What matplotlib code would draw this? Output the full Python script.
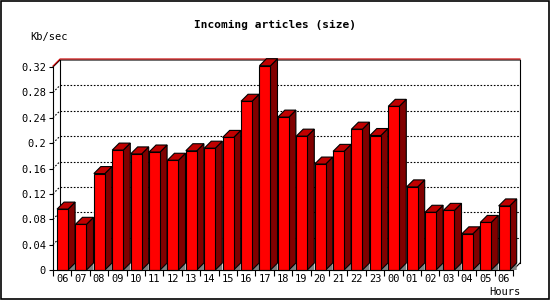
import numpy as np
import matplotlib.pyplot as plt
from matplotlib.patches import Polygon, Rectangle

# data
hours = ["06", "07", "08", "09", "10", "11", "12", "13", "14", "15", "16", "17",
         "18", "19", "20", "21", "22", "23", "00", "01", "02", "03", "04", "05", "06"]
kb_sec = [0.096, 0.072, 0.152, 0.189, 0.183, 0.186, 0.173, 0.188, 0.192, 0.209,
          0.266, 0.322, 0.241, 0.211, 0.167, 0.187, 0.222, 0.212, 0.258, 0.131,
          0.091, 0.094, 0.057, 0.075, 0.101]
yticks = [0, 0.04, 0.08, 0.12, 0.16, 0.2, 0.24, 0.28, 0.32]
ytick_labels = ["0", "0.04", "0.08", "0.12", "0.16", "0.2", "0.24", "0.28", "0.32"]

W, H = 550, 300
fig = plt.figure(figsize=(W / 100, H / 100), dpi=100)
fig.patch.set_facecolor("white")
# plot area in pixels
x0, x1, ytop, ybot = 53, 513, 67, 270
ax = fig.add_axes([x0 / W, 1 - ybot / H, (x1 - x0) / W, (ybot - ytop) / H])
ax.set_facecolor("none")

n = len(kb_sec)
ymax = 0.32
ax.set_xlim(0, n)
ax.set_ylim(0, ymax)

# 3d depth in data units (7 px)
dx = 7 / ((x1 - x0) / n)
dy = 7 * ymax / (ybot - ytop)

mono = "DejaVu Sans Mono"

# back plane gridlines
for t in yticks[1:-1]:
    ax.plot([dx, n + dx], [t + dy, t + dy], color="black", lw=0.8,
            ls=(0, (1.5, 1.5)), clip_on=False, zorder=1)
    ax.plot([0, dx], [t, t + dy], color="black", lw=0.8,
            ls=(0, (1.5, 1.5)), clip_on=False, zorder=1)

# back frame
ax.plot([dx, dx], [dy, ymax + dy], color="black", lw=0.8, clip_on=False, zorder=1)
ax.plot([n + dx, n + dx], [dy, ymax + dy], color="black", lw=0.8, clip_on=False, zorder=1)
ax.plot([n, n + dx], [0, dy], color="black", lw=0.8, clip_on=False, zorder=1)
ax.plot([0, dx, n + dx], [ymax, ymax + dy, ymax + dy], color="black", lw=0.8,
        clip_on=False, zorder=1)
ax.plot([0, dx, n + dx], [ymax + 0.0016, ymax + dy + 0.0016, ymax + dy + 0.0016],
        color="#cc0000", lw=0.8, clip_on=False, zorder=1)

# bars
for i, v in enumerate(kb_sec):
    xl = i + 0.22
    xr = xl + 0.6
    shadow = Polygon([(xr, 0), (xr + dx, dy), (xr + dx, 0)], closed=True,
                     facecolor="#808080", edgecolor="none", clip_on=False, zorder=2)
    side = Polygon([(xr, 0), (xr, v), (xr + dx, v + dy), (xr + dx, dy)], closed=True,
                   facecolor="#800000", edgecolor="black", lw=0.8, clip_on=False, zorder=3)
    top = Polygon([(xl, v), (xl + dx, v + dy), (xr + dx, v + dy), (xr, v)], closed=True,
                  facecolor="#c00000", edgecolor="black", lw=0.8, clip_on=False, zorder=3)
    front = Rectangle((xl, 0), 0.6, v, facecolor="#ff0000", edgecolor="black",
                      lw=0.8, clip_on=False, zorder=4)
    for p in (shadow, side, top, front):
        ax.add_patch(p)

# axes
for s in ("top", "right"):
    ax.spines[s].set_visible(False)
for s in ("left", "bottom"):
    ax.spines[s].set_linewidth(0.8)
    ax.spines[s].set_zorder(5)

ax.set_yticks(yticks)
ax.set_yticklabels(ytick_labels, fontfamily=mono, fontsize=7.5)
ax.tick_params(axis="y", direction="out", length=3, width=0.8, pad=2)

ax.set_xticks(np.arange(n + 1))
ax.set_xticklabels([])
ax.set_xticks(np.arange(n) + 0.5, minor=True)
ax.set_xticklabels(hours, minor=True, fontfamily=mono, fontsize=7.5)
ax.tick_params(axis="x", which="major", direction="out", length=4, width=0.8)
ax.tick_params(axis="x", which="minor", length=0, pad=3)

fig.text(275 / W, 1 - 25 / H, "Incoming articles (size)", ha="center", va="center",
         fontfamily=mono, fontweight="bold", fontsize=8)
fig.text(30 / W, 1 - 37 / H, "Kb/sec", ha="left", va="center", fontfamily=mono, fontsize=7.5)
fig.text(520 / W, 1 - 292 / H, "Hours", ha="right", va="center", fontfamily=mono, fontsize=7.5)

# image border
fig.patches.append(Rectangle((0.001, 0.002), 0.997, 0.995, transform=fig.transFigure,
                             fill=False, edgecolor="black", lw=1.2))

fig.savefig("out.png", dpi=100)
